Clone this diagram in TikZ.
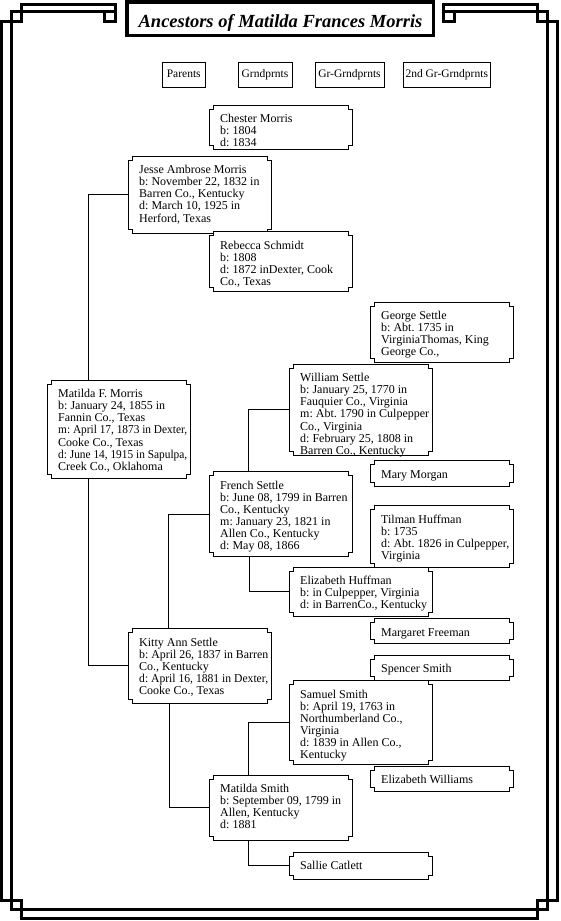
\documentclass[tikz,border=0pt]{standalone}
\usepackage{fontspec}
\usepackage{graphicx}
\setmainfont{Liberation Serif}
\usetikzlibrary{fit}
\frenchspacing
\newsavebox\lnbox
\newcommand\tln[1]{\sbox\lnbox{#1}\ifdim\wd\lnbox>129pt\resizebox{129pt}{\ht\lnbox}{\usebox\lnbox}\else\usebox\lnbox\fi}
\newcommand\pfont{\fontsize{12}{12.1}\selectfont}
\tikzset{
  border/.style={line width=3pt, line join=miter},
  pline/.style={fill=white, draw=black, line width=1pt},
  conn/.style={draw=black, line width=1pt},
  ptext/.style={anchor=north west, inner sep=0pt, align=left, font=\pfont},
  hbox/.style={draw=black, line width=1pt, minimum height=25pt, inner sep=0pt, text height=8pt, text depth=2.6pt, font=\fontsize{11.5}{12}\selectfont},
}
\newcommand\pbox[6]{%
  \filldraw[pline] (#2+4,#3) -- (#4-4,#3) -- (#4-4,#3+4) -- (#4,#3+4) -- (#4,#5-4) -- (#4-4,#5-4) -- (#4-4,#5) -- (#2+4,#5) -- (#2+4,#5-4) -- (#2,#5-4) -- (#2,#3+4) -- (#2+4,#3+4) -- cycle;
  \node[fit={(#2,#3)(#4,#5)}, inner sep=0pt, outer sep=0pt] (#1) {};
  \node[ptext] (#1-t) at ([shift={(10.5,9)}]#1.north west) {#6};}
\begin{document}
\begin{tikzpicture}[x=1pt,y=-1pt]
\useasboundingbox (0,0) rectangle (560,921);
\fill[white] (0,0) rectangle (560,921);
% border
\draw[border] (104.5,11.5) -- (115.5,11.5);
\draw[border] (443.5,11.5) -- (454.5,11.5);
\draw[border] (115.5,4.5) -- (115.5,21.5) -- (104.5,21.5) -- (104.5,11.5) -- (11.5,11.5) -- (11.5,909.5) -- (547.5,909.5) -- (547.5,11.5) -- (454.5,11.5) -- (454.5,21.5) -- (443.5,21.5) -- (443.5,4.5) -- (537.5,4.5) -- (537.5,21.5) -- (557.5,21.5) -- (557.5,900.5) -- (537.5,900.5) -- (537.5,918.5) -- (21.5,918.5) -- (21.5,900.5) -- (1.5,900.5) -- (1.5,21.5) -- (21.5,21.5) -- (21.5,4.5) -- cycle;
% title
\node[draw=black, line width=3.5pt, minimum width=306.5pt, minimum height=33.5pt, inner sep=0pt] (titlebox) at (280.25,18.75) {};
\node[anchor=base, inner sep=0pt, font=\bfseries\itshape\fontsize{18.5}{20}\selectfont] (title) at (280.5,27) {Ancestors of Matilda Frances Morris};
% headers
\node[hbox, minimum width=42.5pt] (hpar) at (183.75,75) {Parents};
\node[hbox, minimum width=54pt] (hgr) at (265,75) {Grndprnts};
\node[hbox, minimum width=69pt] (hggr) at (349.5,75) {Gr-Grndprnts};
\node[hbox, minimum width=86.5pt] (h2gr) at (446.75,75) {2nd Gr-Grndprnts};
% people
\pbox{chester}{209.5}{105}{352.5}{149.5}{\strut\tln{Chester Morris}\\\tln{b: 1804}\\\tln{d: 1834}}
\pbox{jesse}{128.5}{156}{271.5}{233}{\strut\tln{Jesse Ambrose Morris}\\\tln{b: November 22, 1832 in}\\\tln{Barren Co., Kentucky}\\\tln{d: March 10, 1925 in}\\\tln{Herford, Texas}}
\pbox{rebecca}{209.5}{231.5}{352.5}{291.5}{\strut\tln{Rebecca Schmidt}\\\tln{b: 1808}\\\tln{d: 1872 inDexter, Cook}\\\tln{Co., Texas}}
\pbox{george}{370.5}{302}{513.5}{362.5}{\strut\tln{George Settle}\\\tln{b: Abt. 1735 in}\\\tln{VirginiaThomas, King}\\\tln{George Co.,}}
\pbox{william}{289.5}{364}{432.5}{455.5}{\strut\tln{William Settle}\\\tln{b: January 25, 1770 in}\\\tln{Fauquier Co., Virginia}\\\tln{m: Abt. 1790 in Culpepper}\\\tln{Co., Virginia}\\\tln{d: February 25, 1808 in}\\\tln{Barren Co., Kentucky}}
\pbox{matildaF}{47.5}{380}{190.5}{478}{\strut\tln{Matilda F. Morris}\\\tln{b: January 24, 1855 in}\\\tln{Fannin Co., Texas}\\\tln{m: April 17, 1873 in Dexter,}\\\tln{Cooke Co., Texas}\\\tln{d: June 14, 1915 in Sapulpa,}\\\tln{Creek Co., Oklahoma}}
\pbox{mary}{370.5}{460.5}{513.5}{486.5}{\strut\tln{Mary Morgan}}
\pbox{french}{209.5}{471.5}{352.5}{556.5}{\strut\tln{French Settle}\\\tln{b: June 08, 1799 in Barren}\\\tln{Co., Kentucky}\\\tln{m: January 23, 1821 in}\\\tln{Allen Co., Kentucky}\\\tln{d: May 08, 1866}}
\pbox{tilman}{370.5}{505.5}{513.5}{567}{\strut\tln{Tilman Huffman}\\\tln{b: 1735}\\\tln{d: Abt. 1826 in Culpepper,}\\\tln{Virginia}}
\pbox{elizH}{289.5}{567}{432.5}{616}{\strut\tln{Elizabeth Huffman}\\\tln{b: in Culpepper, Virginia}\\\tln{d: in BarrenCo., Kentucky}}
\pbox{margaret}{370.5}{618.5}{513.5}{643.5}{\strut\tln{Margaret Freeman}}
\pbox{kitty}{128.5}{628.5}{271.5}{703}{\strut\tln{Kitty Ann Settle}\\\tln{b: April 26, 1837 in Barren}\\\tln{Co., Kentucky}\\\tln{d: April 16, 1881 in Dexter,}\\\tln{Cooke Co., Texas}}
\pbox{spencer}{370.5}{655}{513.5}{680.5}{\strut\tln{Spencer Smith}}
\pbox{samuel}{289.5}{680.5}{432.5}{764}{\strut\tln{Samuel Smith}\\\tln{b: April 19, 1763 in}\\\tln{Northumberland Co.,}\\\tln{Virginia}\\\tln{d: 1839 in Allen Co.,}\\\tln{Kentucky}}
\pbox{elizW}{370.5}{766}{513.5}{791.5}{\strut\tln{Elizabeth Williams}}
\pbox{matildaS}{209.5}{775}{352.5}{840}{\strut\tln{Matilda Smith}\\\tln{b: September 09, 1799 in}\\\tln{Allen, Kentucky}\\\tln{d: 1881}}
\pbox{sallie}{289.5}{852}{432.5}{879}{\strut\tln{Sallie Catlett}}
% connectors
\draw[conn] (jesse.west) -| ([xshift=40.5pt]matildaF.north west);
\draw[conn] ([xshift=40.5pt]matildaF.south west) |- (kitty.west);
\draw[conn] (william.west) -| ([xshift=39pt]french.north west);
\draw[conn] (french.west) -| ([xshift=40pt]kitty.north west);
\draw[conn] ([xshift=39.5pt]french.south west) |- (elizH.west);
\draw[conn] (samuel.west) -| ([xshift=39pt]matildaS.north west);
\draw[conn] ([xshift=41pt]kitty.south west) |- (matildaS.west);
\draw[conn] ([xshift=39pt]matildaS.south west) |- (sallie.west);
\end{tikzpicture}
\end{document}
